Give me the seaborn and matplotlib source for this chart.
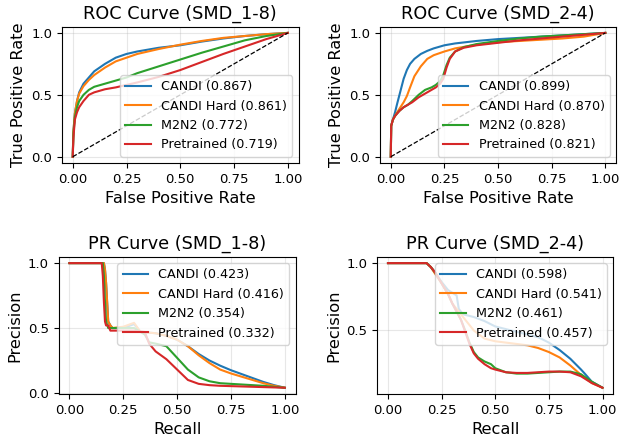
import pandas as pd
import matplotlib
matplotlib.use('Agg')
import matplotlib.pyplot as plt
import seaborn as sns

methods = ['CANDI', 'CANDI Hard', 'M2N2', 'Pretrained']
colors = ['#1f77b4', '#ff7f0e', '#2ca02c', '#d62728']

# ROC SMD_1-8
roc18_fpr = [0, 0.003, 0.01, 0.02, 0.03, 0.05, 0.075, 0.1, 0.15, 0.2, 0.25, 0.3, 0.4, 0.5, 0.6, 0.7, 0.8, 0.9, 1.0]
roc18_candi = [0, 0.2, 0.35, 0.45, 0.52, 0.59, 0.64, 0.69, 0.75, 0.8, 0.83, 0.85, 0.88, 0.9, 0.93, 0.955, 0.975, 0.99, 1.0]
roc18_hard = [0, 0.2, 0.35, 0.45, 0.51, 0.57, 0.62, 0.66, 0.72, 0.77, 0.8, 0.83, 0.87, 0.905, 0.935, 0.96, 0.975, 0.99, 1.0]
roc18_m2n2 = [0, 0.18, 0.32, 0.4, 0.45, 0.5, 0.54, 0.565, 0.59, 0.615, 0.64, 0.675, 0.73, 0.785, 0.84, 0.89, 0.94, 0.975, 1.0]
roc18_pre = [0, 0.15, 0.3, 0.36, 0.4, 0.45, 0.5, 0.52, 0.545, 0.56, 0.58, 0.6, 0.645, 0.7, 0.765, 0.83, 0.89, 0.95, 1.0]
roc18_auc = ['0.867', '0.861', '0.772', '0.719']

# ROC SMD_2-4
roc24_fpr_a = [0, 0.002, 0.01, 0.02, 0.03, 0.045, 0.06, 0.075, 0.09, 0.11, 0.14, 0.17, 0.2, 0.25, 0.3, 0.4, 0.5, 0.6, 0.7, 0.8, 0.9, 1.0]
roc24_candi = [0, 0.25, 0.3, 0.36, 0.43, 0.53, 0.63, 0.7, 0.75, 0.79, 0.83, 0.855, 0.875, 0.9, 0.915, 0.935, 0.95, 0.96, 0.97, 0.98, 0.99, 1.0]
roc24_hard = [0, 0.25, 0.3, 0.33, 0.36, 0.4, 0.44, 0.49, 0.56, 0.65, 0.73, 0.79, 0.82, 0.85, 0.875, 0.905, 0.925, 0.935, 0.945, 0.955, 0.97, 1.0]
roc24_fpr_b = [0, 0.002, 0.01, 0.02, 0.04, 0.06, 0.08, 0.1, 0.13, 0.16, 0.19, 0.21, 0.23, 0.245, 0.26, 0.275, 0.3, 0.34, 0.4, 0.5, 0.6, 0.7, 0.8, 0.9, 1.0]
roc24_m2n2 = [0, 0.25, 0.3, 0.33, 0.37, 0.4, 0.42, 0.45, 0.5, 0.54, 0.56, 0.58, 0.61, 0.66, 0.74, 0.8, 0.85, 0.885, 0.91, 0.935, 0.955, 0.97, 0.98, 0.99, 1.0]
roc24_pre = [0, 0.25, 0.3, 0.33, 0.37, 0.4, 0.42, 0.44, 0.48, 0.51, 0.54, 0.56, 0.59, 0.63, 0.72, 0.79, 0.85, 0.88, 0.9, 0.92, 0.94, 0.955, 0.97, 0.985, 1.0]
roc24_auc = ['0.899', '0.870', '0.828', '0.821']

# PR SMD_1-8
pr18_rec_a = [0, 0.16, 0.165, 0.17, 0.175, 0.18, 0.19, 0.2, 0.25, 0.3, 0.33, 0.4, 0.45, 0.5, 0.55, 0.6, 0.65, 0.7, 0.75, 0.8, 0.85, 0.9, 0.95, 1.0]
pr18_candi = [1.0, 1.0, 0.95, 0.85, 0.7, 0.55, 0.52, 0.5, 0.5, 0.53, 0.47, 0.46, 0.44, 0.41, 0.36, 0.3, 0.25, 0.21, 0.175, 0.145, 0.115, 0.085, 0.06, 0.04]
pr18_hard = [1.0, 1.0, 0.95, 0.85, 0.7, 0.55, 0.52, 0.5, 0.51, 0.54, 0.47, 0.46, 0.44, 0.41, 0.36, 0.29, 0.23, 0.18, 0.15, 0.125, 0.1, 0.075, 0.055, 0.04]
pr18_rec_g = [0, 0.155, 0.16, 0.165, 0.17, 0.18, 0.2, 0.25, 0.3, 0.35, 0.37, 0.4, 0.45, 0.5, 0.55, 0.6, 0.65, 0.7, 0.8, 0.9, 1.0]
pr18_m2n2 = [1.0, 1.0, 0.9, 0.7, 0.55, 0.5, 0.5, 0.5, 0.5, 0.45, 0.39, 0.38, 0.36, 0.27, 0.18, 0.12, 0.09, 0.075, 0.065, 0.055, 0.04]
pr18_rec_r = [0, 0.15, 0.155, 0.16, 0.165, 0.17, 0.18, 0.19, 0.2, 0.25, 0.3, 0.35, 0.37, 0.4, 0.45, 0.5, 0.55, 0.6, 0.65, 0.7, 0.8, 0.9, 1.0]
pr18_pre = [1.0, 1.0, 0.9, 0.7, 0.55, 0.52, 0.52, 0.48, 0.48, 0.48, 0.48, 0.47, 0.38, 0.32, 0.26, 0.18, 0.1, 0.07, 0.06, 0.055, 0.05, 0.045, 0.04]
pr18_ap = ['0.423', '0.416', '0.354', '0.332']

# PR SMD_2-4
pr24_rec_b = [0, 0.18, 0.2, 0.22, 0.25, 0.28, 0.3, 0.32, 0.33, 0.35, 0.4, 0.45, 0.5, 0.55, 0.6, 0.65, 0.7, 0.75, 0.8, 0.85, 0.9, 0.92, 0.95, 1.0]
pr24_candi = [1.0, 1.0, 0.97, 0.93, 0.86, 0.8, 0.78, 0.76, 0.66, 0.62, 0.6, 0.57, 0.53, 0.51, 0.49, 0.47, 0.45, 0.41, 0.355, 0.29, 0.21, 0.175, 0.12, 0.075]
pr24_rec_o = [0, 0.18, 0.2, 0.22, 0.25, 0.28, 0.3, 0.35, 0.4, 0.45, 0.5, 0.55, 0.6, 0.65, 0.7, 0.75, 0.8, 0.85, 0.9, 0.95, 1.0]
pr24_hard = [1.0, 1.0, 0.97, 0.92, 0.85, 0.77, 0.7, 0.6, 0.5, 0.44, 0.42, 0.41, 0.4, 0.39, 0.37, 0.34, 0.3, 0.24, 0.17, 0.11, 0.075]
pr24_rec_g = [0, 0.18, 0.2, 0.22, 0.25, 0.28, 0.3, 0.32, 0.34, 0.36, 0.38, 0.4, 0.42, 0.45, 0.48, 0.5, 0.55, 0.6, 0.65, 0.7, 0.75, 0.8, 0.85, 0.9, 0.95, 1.0]
pr24_m2n2 = [1.0, 1.0, 0.97, 0.93, 0.85, 0.77, 0.7, 0.64, 0.58, 0.5, 0.41, 0.34, 0.3, 0.27, 0.25, 0.22, 0.19, 0.18, 0.18, 0.185, 0.19, 0.195, 0.195, 0.175, 0.12, 0.075]
pr24_pre = [1.0, 1.0, 0.97, 0.93, 0.85, 0.77, 0.7, 0.64, 0.58, 0.49, 0.4, 0.33, 0.29, 0.25, 0.22, 0.21, 0.19, 0.185, 0.185, 0.19, 0.195, 0.195, 0.19, 0.16, 0.11, 0.075]
pr24_ap = ['0.598', '0.541', '0.461', '0.457']


def long_df(xs, ys, scores):
    rows = []
    for m, x, y, s in zip(methods, xs, ys, scores):
        lab = f'{m} ({s})'
        for a, b in zip(x, y):
            rows.append((lab, a, b))
    return pd.DataFrame(rows, columns=['method', 'x', 'y'])


panels = [
    ('ROC Curve (SMD_1-8)', 'False Positive Rate', 'True Positive Rate',
     long_df([roc18_fpr] * 4, [roc18_candi, roc18_hard, roc18_m2n2, roc18_pre], roc18_auc), True),
    ('ROC Curve (SMD_2-4)', 'False Positive Rate', 'True Positive Rate',
     long_df([roc24_fpr_a, roc24_fpr_a, roc24_fpr_b, roc24_fpr_b],
             [roc24_candi, roc24_hard, roc24_m2n2, roc24_pre], roc24_auc), True),
    ('PR Curve (SMD_1-8)', 'Recall', 'Precision',
     long_df([pr18_rec_a, pr18_rec_a, pr18_rec_g, pr18_rec_r],
             [pr18_candi, pr18_hard, pr18_m2n2, pr18_pre], pr18_ap), False),
    ('PR Curve (SMD_2-4)', 'Recall', 'Precision',
     long_df([pr24_rec_b, pr24_rec_o, pr24_rec_g, pr24_rec_g],
             [pr24_candi, pr24_hard, pr24_m2n2, pr24_pre], pr24_ap), False),
]

positions = [
    [0.0998, 0.628, 0.381, 0.311],
    [0.612, 0.628, 0.380, 0.311],
    [0.0945, 0.1005, 0.3815, 0.313],
    [0.6075, 0.1005, 0.380, 0.313],
]

fig = plt.figure(figsize=(6.21, 4.38), dpi=100)
for (title, xl, yl, df, is_roc), pos in zip(panels, positions):
    ax = fig.add_axes(pos)
    sns.lineplot(data=df, x='x', y='y', hue='method', hue_order=list(df['method'].unique()),
                 palette=colors, sort=False, estimator=None, linewidth=1.5, ax=ax)
    if is_roc:
        ax.plot([0, 1], [0, 1], 'k--', linewidth=0.9)
        ax.set_yticks([0, 0.5, 1.0])
        loc = 'lower right'
    else:
        if df['y'].min() > 0.06:
            ax.set_yticks([0.5, 1.0])
        else:
            ax.set_yticks([0, 0.5, 1.0])
        loc = 'upper right'
    ax.set_xticks([0, 0.25, 0.5, 0.75, 1.0])
    ax.grid(True, alpha=0.3)
    ax.set_title(title, fontsize=12.7)
    ax.set_xlabel(xl, fontsize=11.7)
    ax.set_ylabel(yl, fontsize=11.7)
    ax.tick_params(labelsize=9.5)
    ax.legend(loc=loc, fontsize=9.2, title=None)

fig.savefig('out.png', dpi=100)
